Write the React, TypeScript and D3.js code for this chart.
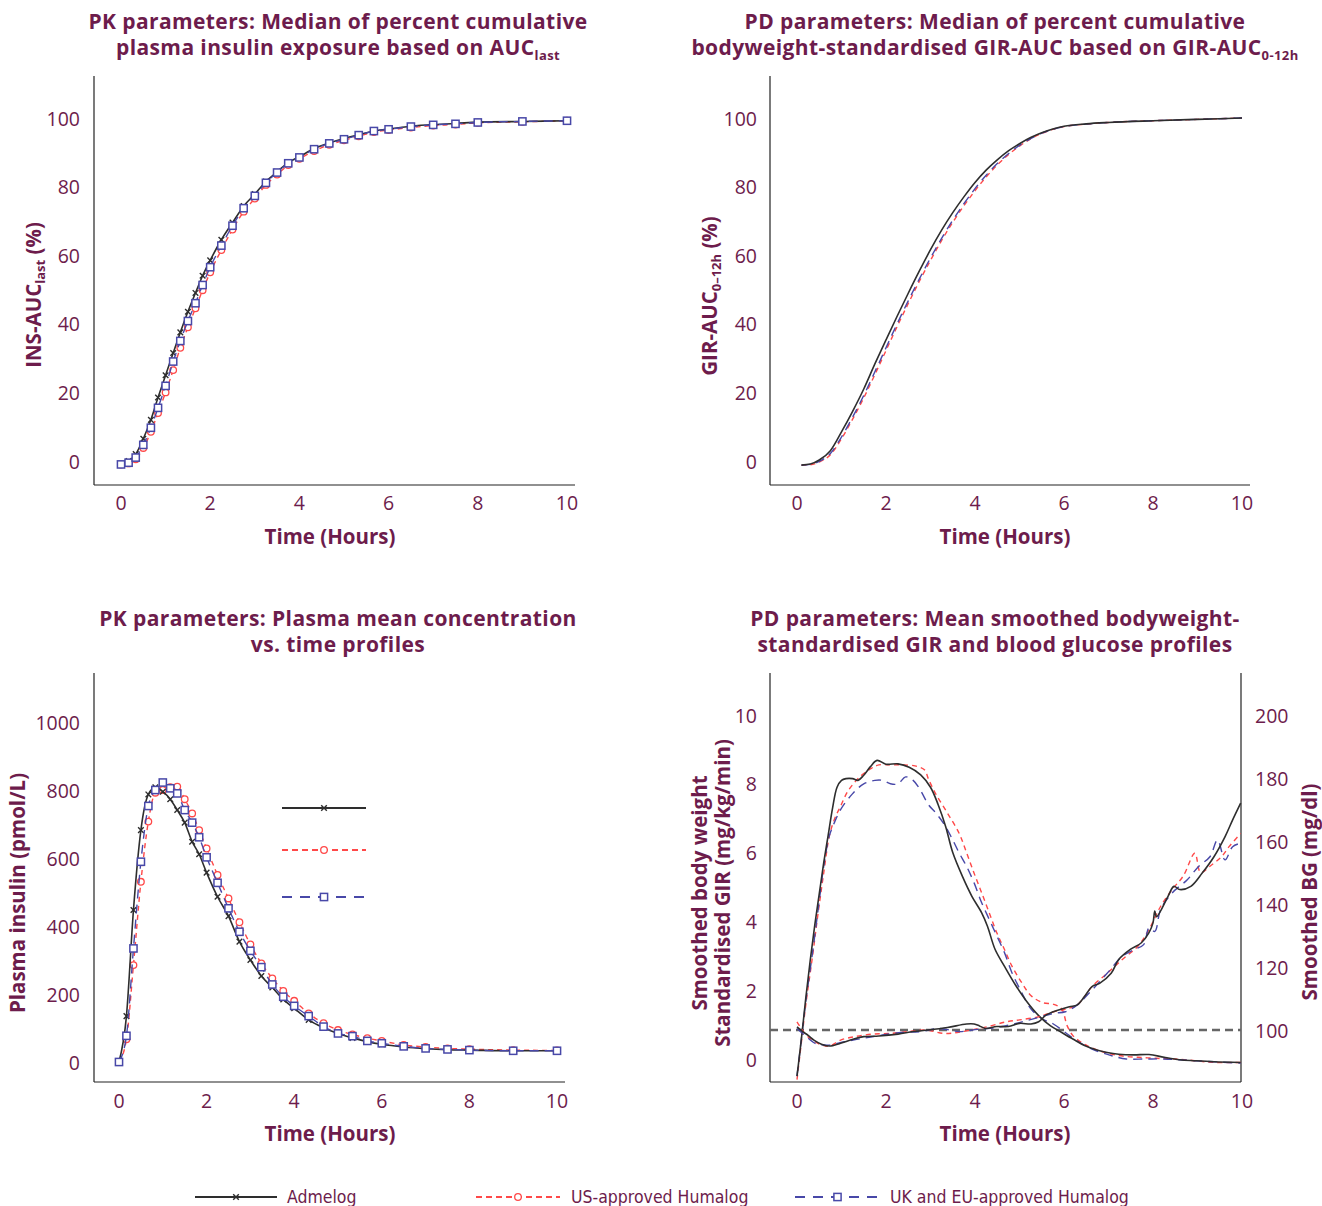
import React from 'react';
import * as d3 from 'd3';

// ---------- colours / fonts ----------
const MAROON = '#6d1c4c';
const C_BLACK = '#2e2e2e';
const C_RED = '#ff4848';
const C_BLUE = '#4848a8';
const FONT = "'Open Sans', 'DejaVu Sans', sans-serif";
const LEG_FONT = "'Liberation Sans Narrow', 'DejaVu Sans Condensed', 'Roboto', sans-serif";

// ---------- data ----------
const SERIES_NAMES = ['Admelog', 'US-approved Humalog', 'UK and EU-approved Humalog'];

const X_TICKS = [0, 2, 4, 6, 8, 10];
const PCT_TICKS = [0, 20, 40, 60, 80, 100];
const INS_TICKS = [0, 200, 400, 600, 800, 1000];
const GIR_TICKS = [0, 2, 4, 6, 8, 10];
const BG_TICKS = [100, 120, 140, 160, 180, 200];

// PK sampling times (h)
const PK_TIMES = [0, 0.17, 0.33, 0.5, 0.67, 0.83, 1, 1.17, 1.33, 1.5, 1.67, 1.83, 2, 2.25, 2.5, 2.75, 3, 3.25, 3.5, 3.75, 4, 4.33, 4.67, 5, 5.33, 5.67, 6, 6.5, 7, 7.5, 8, 9, 10];

// Panel A: median % cumulative INS-AUClast
const INS_AUC_ADMELOG = [-1, 0, 2.0, 6.5, 12, 18.5, 25, 31.5, 37.5, 43.5, 49, 54, 58.5, 64.5, 69.5, 74.3, 77.8, 81.5, 84.3, 87, 88.7, 91.1, 92.7, 94, 95.1, 96.2, 96.8, 97.6, 98.1, 98.4, 98.8, 99.0, 99.2];
const INS_AUC_US = [-1, -0.7, 0.5, 3.8, 8.5, 14, 20, 26.5, 33, 39, 44.5, 49.8, 55, 61.5, 67.5, 72.7, 76.5, 80.5, 83.5, 86.3, 88.1, 90.4, 92.2, 93.5, 94.7, 95.9, 96.5, 97.2, 97.8, 98.1, 98.6, 98.9, 99.2];
const INS_AUC_EU = [-1, -0.5, 1.0, 4.7, 9.7, 15.5, 21.9, 29, 35, 40.8, 46, 51.3, 56.5, 62.8, 68.6, 73.7, 77.3, 81.1, 84.1, 86.8, 88.5, 90.9, 92.6, 93.8, 95.0, 96.2, 96.7, 97.5, 98.0, 98.3, 98.7, 99.0, 99.2];

// Panel B: median % cumulative GIR-AUC0-12h
const GIR_AUC_TIMES = [0.1, 0.3, 0.5, 0.75, 1, 1.25, 1.5, 1.75, 2, 2.25, 2.5, 2.75, 3, 3.25, 3.5, 3.75, 4, 4.25, 4.5, 4.75, 5, 5.25, 5.5, 5.75, 6, 6.5, 7, 8, 9, 10];
const GIR_AUC_ADMELOG = [-1.2, -0.9, 0.3, 3.0, 8.5, 14.5, 21, 28.3, 35.3, 42.2, 48.9, 55.4, 61.6, 67.3, 72.4, 77, 81.2, 84.8, 87.8, 90.4, 92.5, 94.3, 95.7, 96.8, 97.6, 98.3, 98.7, 99.2, 99.6, 100];
const GIR_AUC_US = [-1.2, -1.1, -0.3, 1.8, 6.5, 12.2, 18.4, 25.2, 32.2, 39.2, 45.9, 52.4, 58.5, 64.3, 69.6, 74.4, 78.8, 82.8, 86.3, 89.3, 91.8, 93.9, 95.5, 96.7, 97.5, 98.2, 98.7, 99.2, 99.6, 100];
const GIR_AUC_EU = [-1.2, -1.0, -0.1, 2.2, 7.0, 12.8, 19.1, 26.0, 33.0, 40.0, 46.7, 53.1, 59.2, 64.9, 70.2, 75.0, 79.4, 83.3, 86.7, 89.6, 92.0, 94.0, 95.6, 96.7, 97.5, 98.2, 98.7, 99.2, 99.6, 100];

// Panel C: plasma mean insulin concentration (pmol/L)
const INSULIN_ADMELOG = [0, 135, 447, 682, 787, 808, 795, 773, 741, 704, 648, 611, 557, 486, 429, 354, 300, 253, 219, 184, 158, 124, 101, 84, 71, 60, 52, 44, 39, 36, 35, 33, 33];
const INSULIN_US = [0, 67, 285, 530, 707, 792, 800, 808, 810, 773, 731, 682, 628, 550, 481, 411, 346, 290, 246, 209, 180, 143, 114, 94, 81, 70, 62, 50, 44, 40, 38, 35, 34];
const INSULIN_EU = [0, 77, 334, 589, 753, 800, 822, 805, 790, 741, 704, 661, 602, 527, 452, 383, 327, 279, 228, 192, 165, 135, 104, 84, 76, 62, 55, 46, 40, 37, 35, 33, 33];

// Panel D: smoothed GIR (mg/kg/min)
const GIR_T_ADMELOG = [0, 0.1, 0.2, 0.3, 0.4, 0.5, 0.6, 0.7, 0.8, 0.9, 1.0, 1.1, 1.25, 1.37, 1.5, 1.65, 1.8, 2.0, 2.27, 2.52, 2.78, 3.0, 3.17, 3.34, 3.5, 3.72, 3.93, 4.15, 4.28, 4.45, 4.66, 4.92, 5.18, 5.43, 5.69, 5.95, 6.2, 6.46, 6.72, 6.97, 7.23, 7.57, 7.91, 8.25, 8.6, 8.94, 9.37, 9.97];
const GIR_ADMELOG = [-0.5, 0.6, 1.8, 2.9, 3.9, 4.8, 5.7, 6.5, 7.3, 7.9, 8.1, 8.15, 8.15, 8.1, 8.25, 8.5, 8.68, 8.57, 8.58, 8.48, 8.26, 7.9, 7.4, 6.76, 6.0, 5.3, 4.73, 4.25, 3.86, 3.19, 2.7, 2.13, 1.64, 1.26, 0.97, 0.77, 0.58, 0.39, 0.27, 0.19, 0.14, 0.12, 0.13, 0.05, -0.02, -0.05, -0.08, -0.1];
const GIR_T_US = [0, 0.1, 0.2, 0.35, 0.47, 0.6, 0.73, 0.85, 0.98, 1.15, 1.41, 1.67, 1.84, 2.1, 2.35, 2.65, 2.87, 2.95, 3.12, 3.38, 3.64, 3.81, 3.98, 4.15, 4.32, 4.49, 4.66, 4.83, 5.05, 5.26, 5.52, 5.77, 5.95, 6.07, 6.2, 6.46, 6.8, 7.23, 7.66, 8.08, 8.51, 8.94, 9.37, 9.97];
const GIR_US = [-0.6, 0.5, 1.6, 3.0, 4.2, 5.4, 6.5, 7.0, 7.35, 7.8, 8.2, 8.45, 8.55, 8.55, 8.55, 8.52, 8.4, 8.15, 7.7, 7.15, 6.57, 6.0, 5.4, 4.83, 4.25, 3.67, 3.19, 2.7, 2.22, 1.84, 1.64, 1.59, 1.45, 0.97, 0.68, 0.43, 0.24, 0.1, 0.05, 0.02, 0, -0.05, -0.1, -0.1];
const GIR_T_EU = [0, 0.1, 0.2, 0.35, 0.5, 0.6, 0.73, 0.85, 0.98, 1.24, 1.5, 1.75, 1.92, 2.1, 2.27, 2.44, 2.61, 2.78, 2.95, 3.12, 3.29, 3.46, 3.64, 3.81, 3.98, 4.15, 4.32, 4.49, 4.66, 4.83, 5.05, 5.26, 5.52, 5.77, 6.03, 6.29, 6.63, 7.06, 7.4, 7.83, 8.25, 8.94, 9.97];
const GIR_EU = [-0.5, 0.6, 1.7, 3.1, 4.6, 5.6, 6.5, 6.9, 7.25, 7.7, 8.0, 8.1, 8.1, 8.0, 8.0, 8.2, 8.1, 7.8, 7.4, 7.15, 6.86, 6.47, 6.0, 5.6, 5.12, 4.54, 4.06, 3.58, 3.1, 2.51, 1.93, 1.45, 1.16, 1.01, 0.77, 0.53, 0.29, 0.1, 0, 0, 0, -0.05, -0.12];

// Panel D: smoothed blood glucose (mg/dl)
const BG_T_ADMELOG = [0, 0.13, 0.25, 0.38, 0.55, 0.73, 0.98, 1.24, 1.5, 1.84, 2.27, 2.61, 2.95, 3.38, 3.81, 3.98, 4.1, 4.23, 4.49, 4.75, 5.0, 5.26, 5.43, 5.6, 5.86, 6.12, 6.29, 6.46, 6.63, 6.8, 7.06, 7.23, 7.49, 7.74, 7.91, 8.0, 8.04, 8.08, 8.34, 8.47, 8.6, 8.85, 9.11, 9.37, 9.62, 9.79, 9.97];
const BG_ADMELOG = [101, 99.5, 98.3, 96.8, 95.5, 94.9, 95.8, 97.0, 97.9, 98.1, 98.7, 99.5, 100, 100.8, 101.9, 101.9, 101.3, 100.5, 101.1, 101.1, 102.1, 101.9, 102.6, 104.8, 106.3, 107.4, 107.9, 110.6, 113.8, 114.8, 118, 122.4, 125.6, 127.7, 130.9, 134, 137.8, 136, 142.5, 145.6, 144.6, 145.6, 149.9, 155, 161.4, 166.7, 172];
const BG_T_US = [0, 0.2, 0.4, 0.55, 0.73, 0.98, 1.3, 1.7, 2.1, 2.5, 2.9, 3.3, 3.6, 3.9, 4.3, 4.7, 5.0, 5.43, 5.77, 6.03, 6.29, 6.46, 6.63, 6.97, 7.31, 7.66, 7.91, 8.17, 8.43, 8.68, 8.94, 9.07, 9.28, 9.54, 9.71, 9.97];
const BG_US = [102.6, 98.5, 96.3, 95.3, 94.9, 96.8, 97.9, 98.7, 98.9, 99.5, 100, 98.9, 99.2, 100, 101.1, 102.6, 103.2, 104.2, 105.8, 106.6, 107.9, 110.5, 113.8, 118, 122.4, 126.6, 131.9, 139.2, 144.6, 148.9, 156.1, 150, 152, 155, 158.2, 162.4];
const BG_T_EU = [0, 0.2, 0.4, 0.55, 0.73, 1.07, 1.5, 1.92, 2.35, 2.78, 3.2, 3.64, 4.06, 4.49, 4.92, 5.35, 5.77, 6.03, 6.29, 6.63, 6.97, 7.31, 7.57, 7.79, 7.91, 8.04, 8.17, 8.43, 8.77, 9.03, 9.28, 9.45, 9.62, 9.79, 9.97];
const BG_EU = [100.5, 98, 95.8, 95.3, 95.2, 96.3, 97.4, 98.4, 99.2, 99.5, 100.5, 99.5, 100.2, 100.8, 102.1, 103.7, 105.3, 105.8, 107.9, 112.7, 118, 123.4, 125.5, 127.1, 132.4, 131.3, 138.2, 143.5, 147.7, 152, 155, 160.3, 154, 158.2, 159.3];

const BG_TARGET = 100;

// ---------- helpers ----------
type Sc = d3.ScaleLinear<number, number>;

const STYLE = [
  { color: C_BLACK, dash: undefined as string | undefined, width: 1.6, marker: 'x' },
  { color: C_RED, dash: '5,4', width: 1.4, marker: 'o' },
  { color: C_BLUE, dash: '9,6', width: 1.4, marker: 's' },
];

function pairs(t: number[], v: number[]): [number, number][] {
  return t.map((ti, i) => [ti, v[i]] as [number, number]);
}

function Marker({ kind, x, y, color }: { kind: string; x: number; y: number; color: string }) {
  if (kind === 'x')
    return <path d={`M${x - 2.8},${y - 2.8}L${x + 2.8},${y + 2.8}M${x - 2.8},${y + 2.8}L${x + 2.8},${y - 2.8}`} stroke={color} strokeWidth={1.4} fill="none" />;
  if (kind === 'o') return <circle cx={x} cy={y} r={3.3} fill="#fff" stroke={color} strokeWidth={1.3} />;
  return <rect x={x - 3.6} y={y - 3.6} width={7.2} height={7.2} fill="#fff" stroke={color} strokeWidth={1.5} />;
}

function Series({ data, xs, ys, idx, markers, curve }: { data: [number, number][]; xs: Sc; ys: Sc; idx: number; markers: boolean; curve: any }) {
  const st = STYLE[idx];
  const line = d3.line<[number, number]>().x(d => xs(d[0])).y(d => ys(d[1])).curve(curve);
  return (
    <g>
      <path d={line(data) || ''} fill="none" stroke={st.color} strokeWidth={st.width} strokeDasharray={st.dash} strokeLinejoin="round" />
      {markers && data.map((d, i) => <Marker key={i} kind={st.marker} x={xs(d[0])} y={ys(d[1])} color={st.color} />)}
    </g>
  );
}

function LegendSample({ idx, x1, x2, y }: { idx: number; x1: number; x2: number; y: number }) {
  const st = STYLE[idx];
  const cx = (x1 + x2) / 2;
  return (
    <g>
      <line x1={x1} x2={x2} y1={y} y2={y} stroke={st.color} strokeWidth={idx === 0 ? 2.2 : 1.8} strokeDasharray={idx === 1 ? '6,4' : idx === 2 ? '10,8' : undefined} />
      <Marker kind={st.marker} x={cx} y={y} color={st.color} />
    </g>
  );
}

const tickStyle = { fontFamily: FONT, fontSize: 19.5, fill: MAROON, fontWeight: 400 } as const;
const titleStyle = { fontFamily: FONT, fontSize: 21, fill: MAROON, fontWeight: 700, letterSpacing: 0.4 } as const;
const axisTitleStyle = { fontFamily: FONT, fontSize: 20.5, fill: MAROON, fontWeight: 700 } as const;
const SUB = 13;

export default function App() {
  // Panel A (top-left)
  const aX = d3.scaleLinear().domain([0, 10]).range([121, 567]);
  const aY = d3.scaleLinear().domain([0, 100]).range([461, 118]);
  // Panel B (top-right)
  const bX = d3.scaleLinear().domain([0, 10]).range([797, 1242]);
  const bY = d3.scaleLinear().domain([0, 100]).range([461, 118]);
  // Panel C (bottom-left)
  const cX = d3.scaleLinear().domain([0, 10]).range([119, 557]);
  const cY = d3.scaleLinear().domain([0, 1000]).range([1062, 722]);
  // Panel D (bottom-right)
  const dX = d3.scaleLinear().domain([0, 10]).range([797, 1242]);
  const dYL = d3.scaleLinear().domain([0, 10]).range([1059, 715]);
  const dYR = d3.scaleLinear().domain([100, 200]).range([1030, 715]);

  const insAuc = [INS_AUC_ADMELOG, INS_AUC_US, INS_AUC_EU];
  const girAuc = [GIR_AUC_ADMELOG, GIR_AUC_US, GIR_AUC_EU];
  const insulin = [INSULIN_ADMELOG, INSULIN_US, INSULIN_EU];
  const gir = [pairs(GIR_T_ADMELOG, GIR_ADMELOG), pairs(GIR_T_US, GIR_US), pairs(GIR_T_EU, GIR_EU)];
  const bg = [pairs(BG_T_ADMELOG, BG_ADMELOG), pairs(BG_T_US, BG_US), pairs(BG_T_EU, BG_EU)];
  const order = [1, 0, 2];
  const orderD = [1, 2, 0];

  const axisColor = '#222';

  return (
    <svg width={1322} height={1206} style={{ position: 'absolute', left: 0, top: 0, background: '#fff' }} xmlns="http://www.w3.org/2000/svg">
      <rect x={0} y={0} width={1322} height={1206} fill="#fff" />

      {/* ---------- Titles ---------- */}
      <text x={338} y={29} textAnchor="middle" style={titleStyle}>PK parameters: Median of percent cumulative</text>
      <text x={338} y={55} textAnchor="middle" style={titleStyle}>plasma insulin exposure based on AUC<tspan fontSize={SUB} dy={5}>last</tspan></text>
      <text x={995} y={29} textAnchor="middle" style={titleStyle}>PD parameters: Median of percent cumulative</text>
      <text x={995} y={55} textAnchor="middle" style={titleStyle}>bodyweight-standardised GIR-AUC based on GIR-AUC<tspan fontSize={SUB} dy={5}>0-12h</tspan></text>
      <text x={338} y={626} textAnchor="middle" style={titleStyle}>PK parameters: Plasma mean concentration</text>
      <text x={338} y={652} textAnchor="middle" style={titleStyle}>vs. time profiles</text>
      <text x={995} y={626} textAnchor="middle" style={titleStyle}>PD parameters: Mean smoothed bodyweight-</text>
      <text x={995} y={652} textAnchor="middle" style={titleStyle}>standardised GIR and blood glucose profiles</text>

      {/* ---------- Panel A ---------- */}
      <g>
        <line x1={94} x2={94} y1={76} y2={485} stroke={axisColor} strokeWidth={1.2} />
        <line x1={94} x2={575} y1={485} y2={485} stroke={axisColor} strokeWidth={1.2} />
        {PCT_TICKS.map(t => <text key={t} x={80} y={aY(t)} textAnchor="end" dominantBaseline="central" style={tickStyle}>{t}</text>)}
        {X_TICKS.map(t => <text key={t} x={aX(t)} y={502} textAnchor="middle" dominantBaseline="central" style={tickStyle}>{t}</text>)}
        <text x={330} y={536} textAnchor="middle" dominantBaseline="central" style={axisTitleStyle}>Time (Hours)</text>
        <text transform="translate(41,295) rotate(-90)" textAnchor="middle" style={axisTitleStyle}>INS-AUC<tspan fontSize={SUB} dy={4}>last</tspan><tspan dy={-4}> (%)</tspan></text>
        {order.map(i => <Series key={i} data={pairs(PK_TIMES, insAuc[i])} xs={aX} ys={aY} idx={i} markers={true} curve={d3.curveMonotoneX} />)}
      </g>

      {/* ---------- Panel B ---------- */}
      <g>
        <line x1={770} x2={770} y1={76} y2={485} stroke={axisColor} strokeWidth={1.2} />
        <line x1={770} x2={1250} y1={485} y2={485} stroke={axisColor} strokeWidth={1.2} />
        {PCT_TICKS.map(t => <text key={t} x={757} y={bY(t)} textAnchor="end" dominantBaseline="central" style={tickStyle}>{t}</text>)}
        {X_TICKS.map(t => <text key={t} x={bX(t)} y={502} textAnchor="middle" dominantBaseline="central" style={tickStyle}>{t}</text>)}
        <text x={1005} y={536} textAnchor="middle" dominantBaseline="central" style={axisTitleStyle}>Time (Hours)</text>
        <text transform="translate(717,296) rotate(-90)" textAnchor="middle" style={axisTitleStyle}>GIR-AUC<tspan fontSize={SUB} dy={4}>0–12h</tspan><tspan dy={-4}> (%)</tspan></text>
        {[1, 2, 0].map(i => <Series key={i} data={pairs(GIR_AUC_TIMES, girAuc[i])} xs={bX} ys={bY} idx={i} markers={false} curve={d3.curveMonotoneX} />)}
      </g>

      {/* ---------- Panel C ---------- */}
      <g>
        <line x1={94} x2={94} y1={673} y2={1082} stroke={axisColor} strokeWidth={1.2} />
        <line x1={94} x2={565} y1={1082} y2={1082} stroke={axisColor} strokeWidth={1.2} />
        {INS_TICKS.map(t => <text key={t} x={80} y={cY(t)} textAnchor="end" dominantBaseline="central" style={tickStyle}>{t}</text>)}
        {X_TICKS.map(t => <text key={t} x={cX(t)} y={1100} textAnchor="middle" dominantBaseline="central" style={tickStyle}>{t}</text>)}
        <text x={330} y={1133} textAnchor="middle" dominantBaseline="central" style={axisTitleStyle}>Time (Hours)</text>
        <text transform="translate(25,893) rotate(-90)" textAnchor="middle" style={axisTitleStyle}>Plasma insulin (pmol/L)</text>
        {order.map(i => <Series key={i} data={pairs(PK_TIMES, insulin[i])} xs={cX} ys={cY} idx={i} markers={true} curve={d3.curveMonotoneX} />)}
        <LegendSample idx={0} x1={282} x2={366} y={808} />
        <LegendSample idx={1} x1={282} x2={366} y={850} />
        <LegendSample idx={2} x1={282} x2={366} y={897} />
      </g>

      {/* ---------- Panel D ---------- */}
      <g>
        <line x1={770} x2={770} y1={673} y2={1082} stroke={axisColor} strokeWidth={1.2} />
        <line x1={1241} x2={1241} y1={673} y2={1082} stroke={axisColor} strokeWidth={1.2} />
        <line x1={770} x2={1241} y1={1082} y2={1082} stroke={axisColor} strokeWidth={1.2} />
        {GIR_TICKS.map(t => <text key={t} x={757} y={dYL(t)} textAnchor="end" dominantBaseline="central" style={tickStyle}>{t}</text>)}
        {BG_TICKS.map(t => <text key={t} x={1255} y={dYR(t)} textAnchor="start" dominantBaseline="central" style={tickStyle}>{t}</text>)}
        {X_TICKS.map(t => <text key={t} x={dX(t)} y={1100} textAnchor="middle" dominantBaseline="central" style={tickStyle}>{t}</text>)}
        <text x={1005} y={1133} textAnchor="middle" dominantBaseline="central" style={axisTitleStyle}>Time (Hours)</text>
        <text transform="translate(707,893) rotate(-90)" textAnchor="middle" style={axisTitleStyle}>Smoothed body weight</text>
        <text transform="translate(730,893) rotate(-90)" textAnchor="middle" style={axisTitleStyle}>Standardised GIR (mg/kg/min)</text>
        <text transform="translate(1317,892) rotate(-90)" textAnchor="middle" style={axisTitleStyle}>Smoothed BG (mg/dl)</text>
        <line x1={770} x2={1241} y1={dYR(BG_TARGET)} y2={dYR(BG_TARGET)} stroke="#666" strokeWidth={2.4} strokeDasharray="8,5" />
        {orderD.map(i => <Series key={'g' + i} data={gir[i]} xs={dX} ys={dYL} idx={i} markers={false} curve={d3.curveCatmullRom} />)}
        {orderD.map(i => <Series key={'b' + i} data={bg[i]} xs={dX} ys={dYR} idx={i} markers={false} curve={d3.curveCatmullRom} />)}
      </g>

      {/* ---------- Bottom legend ---------- */}
      <g>
        <LegendSample idx={0} x1={195} x2={277} y={1197} />
        <text x={287} y={1197} dominantBaseline="central" style={{ fontFamily: LEG_FONT, fontSize: 17.5, fill: MAROON }}>{SERIES_NAMES[0]}</text>
        <LegendSample idx={1} x1={476} x2={560} y={1197} />
        <text x={571} y={1197} dominantBaseline="central" style={{ fontFamily: LEG_FONT, fontSize: 17.5, fill: MAROON }}>{SERIES_NAMES[1]}</text>
        <LegendSample idx={2} x1={795} x2={880} y={1197} />
        <text x={890} y={1197} dominantBaseline="central" style={{ fontFamily: LEG_FONT, fontSize: 17.5, fill: MAROON }}>{SERIES_NAMES[2]}</text>
      </g>
    </svg>
  );
}
